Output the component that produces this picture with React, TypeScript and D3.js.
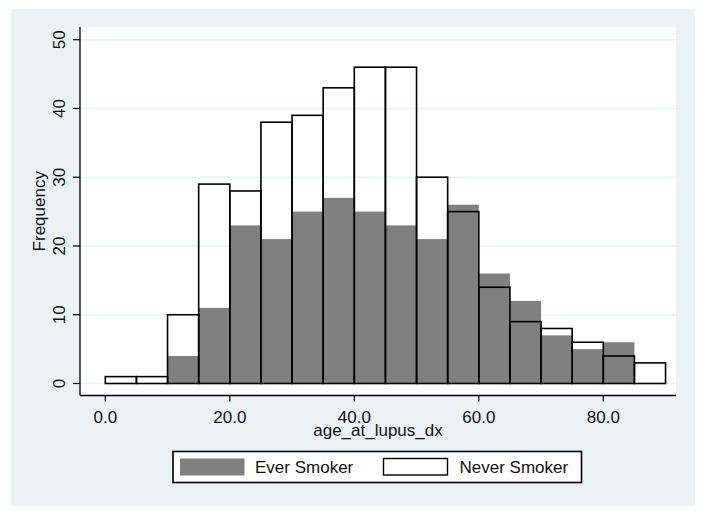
import React from "react";
import * as d3 from "d3";

const binStarts = [0, 5, 10, 15, 20, 25, 30, 35, 40, 45, 50, 55, 60, 65, 70, 75, 80, 85];
const binWidth = 5;
const everSmoker = [0, 0, 4, 11, 23, 21, 25, 27, 25, 23, 21, 26, 16, 12, 7, 5, 6, 0];
const neverSmoker = [1, 1, 10, 29, 28, 38, 39, 43, 46, 46, 30, 25, 14, 9, 8, 6, 4, 3];
const xTicks = [0, 20, 40, 60, 80];
const yTicks = [0, 10, 20, 30, 40, 50];
const seriesNames = ["Ever Smoker", "Never Smoker"];

const W = 710;
const H = 516;
const FONT = "'Liberation Sans', Arial, sans-serif";
const BG = "#EAF2F3";
const GRAY = "#808080";

export default function App() {
  const x = d3.scaleLinear().domain([0, 80]).range([105.3, 603.3]);
  const y = d3.scaleLinear().domain([0, 50]).range([383.5, 39.7]);
  const plot = { l: 80, r: 676, t: 27, b: 395.5 };
  const cx = (plot.l + plot.r) / 2;
  const cy = (plot.t + plot.b) / 2;

  return (
    <svg width={W} height={H} style={{ position: "absolute", left: 0, top: 0 }}>
      <rect x={0} y={0} width={W} height={H} fill="#fff" />
      <rect x={11} y={9} width={684} height={497} fill={BG} />
      <rect x={plot.l} y={plot.t} width={plot.r - plot.l} height={plot.b - plot.t} fill="#fff" />
      {yTicks.map((t) => (
        <line key={"g" + t} x1={plot.l} x2={plot.r} y1={y(t)} y2={y(t)} stroke={BG} strokeWidth={1.5} />
      ))}
      {everSmoker.map((v, i) =>
        v > 0 ? (
          <rect
            key={"e" + i}
            x={x(binStarts[i])}
            width={x(binStarts[i] + binWidth) - x(binStarts[i])}
            y={y(v)}
            height={y(0) - y(v)}
            fill={GRAY}
          />
        ) : null
      )}
      {neverSmoker.map((v, i) =>
        v > 0 ? (
          <rect
            key={"n" + i}
            x={x(binStarts[i])}
            width={x(binStarts[i] + binWidth) - x(binStarts[i])}
            y={y(v)}
            height={y(0) - y(v)}
            fill="none"
            stroke="#000"
            strokeWidth={1.6}
          />
        ) : null
      )}
      {/* axes */}
      <line x1={plot.l} x2={plot.l} y1={plot.t} y2={plot.b} stroke="#000" strokeWidth={1.3} />
      <line x1={plot.l} x2={plot.r} y1={plot.b} y2={plot.b} stroke="#000" strokeWidth={1.3} />
      {yTicks.map((t) => (
        <g key={"yt" + t}>
          <line x1={plot.l - 7} x2={plot.l} y1={y(t)} y2={y(t)} stroke="#000" strokeWidth={1.2} />
          <text
            transform={`translate(65,${y(t)}) rotate(-90)`}
            textAnchor="middle"
            fontFamily={FONT}
            fontSize={17}
            fill="#111"
          >
            {t}
          </text>
        </g>
      ))}
      {xTicks.map((t) => (
        <g key={"xt" + t}>
          <line x1={x(t)} x2={x(t)} y1={plot.b} y2={plot.b + 6} stroke="#000" strokeWidth={1.2} />
          <text x={x(t)} y={422.5} textAnchor="middle" fontFamily={FONT} fontSize={17} fill="#111">
            {d3.format(".1f")(t)}
          </text>
        </g>
      ))}
      <text
        transform={`translate(45,${cy}) rotate(-90)`}
        textAnchor="middle"
        fontFamily={FONT}
        fontSize={17}
        fill="#111"
      >
        Frequency
      </text>
      <text x={cx} y={435.5} textAnchor="middle" fontFamily={FONT} fontSize={17} fill="#111">
        age_at_lupus_dx
      </text>
      {/* legend */}
      <rect x={173} y={451.5} width={408.5} height={31} fill="#fff" stroke="#000" strokeWidth={1.6} />
      <rect x={180} y={458.5} width={64.5} height={17} fill={GRAY} />
      <text x={255} y={473} fontFamily={FONT} fontSize={17} fill="#111">
        {seriesNames[0]}
      </text>
      <rect x={383.5} y={458.5} width={64} height={16.5} fill="#fff" stroke="#000" strokeWidth={1.4} />
      <text x={459.5} y={473} fontFamily={FONT} fontSize={17} fill="#111">
        {seriesNames[1]}
      </text>
    </svg>
  );
}
